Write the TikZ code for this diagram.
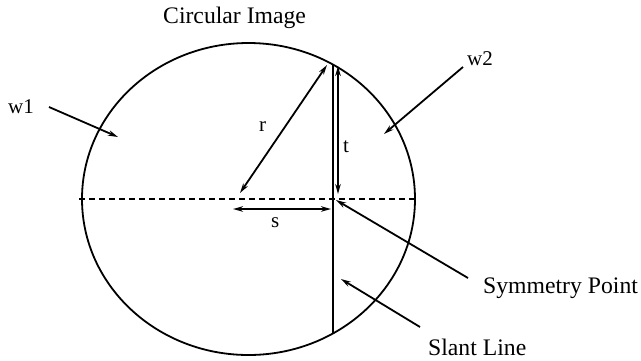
\documentclass[tikz,border=0pt]{standalone}
\usepackage{fontspec}
\setmainfont{Liberation Serif}
\usetikzlibrary{arrows.meta}
\begin{document}
\begin{tikzpicture}[x=1pt,y=-1pt,
  big/.style={font=\fontsize{23.7}{28}\selectfont, inner sep=0pt, anchor=base west},
  small/.style={font=\fontsize{21}{25}\selectfont, inner sep=0pt, anchor=base west},
  ln/.style={line width=1.8pt},
  tip/.tip={Stealth[length=10pt,width=5.5pt]},
  arr/.style={ln,-tip},
  darr/.style={ln,tip-tip}]
\useasboundingbox (0,0) rectangle (641,360);
% circle
\coordinate (c) at (248.5,199);
\draw[ln] (c) ellipse [x radius=166.5pt, y radius=156pt];
% dashed symmetry line
\coordinate (dl) at (79,199);
\coordinate (dr) at (414,199);
\draw[ln, dash pattern=on 6pt off 4pt] (dl) -- (dr);
% slant line
\coordinate (sltop) at (333,64);
\coordinate (slbot) at (333,333);
\draw[ln] (sltop) -- (slbot);
% r arrow
\coordinate (ra) at (327,65);
\coordinate (rb) at (240,193);
\draw[darr] (ra) -- (rb);
% t arrow
\coordinate (ta) at (338,66);
\coordinate (tb) at (338,194);
\draw[darr] (ta) -- (tb);
% s arrow
\coordinate (sa) at (233,209);
\coordinate (sb) at (331,209);
\draw[darr] (sa) -- (sb);
% labels
\node[big] (title) at (163,23) {Circular Image};
\node[small] (w1) at (8,113) {w1};
\node[small] (w2) at (467,65) {w2};
\node[small] (r) at (259,131) {r};
\node[small] (t) at (343,152) {t};
\node[small] (s) at (271,227) {s};
\node[big] (sym) at (483,293) {Symmetry Point};
\node[big] (slant) at (428,355) {Slant Line};
% pointer arrows
\coordinate (w1s) at (49,107);
\coordinate (w1e) at (118,137);
\draw[arr] (w1s) -- (w1e);
\coordinate (w2s) at (463,67);
\coordinate (w2e) at (384,134);
\draw[arr] (w2s) -- (w2e);
\coordinate (sps) at (468,278);
\coordinate (spe) at (336,200);
\draw[arr] (sps) -- (spe);
\coordinate (sls) at (420,327);
\coordinate (sle) at (341,279);
\draw[arr] (sls) -- (sle);
\end{tikzpicture}
\end{document}
